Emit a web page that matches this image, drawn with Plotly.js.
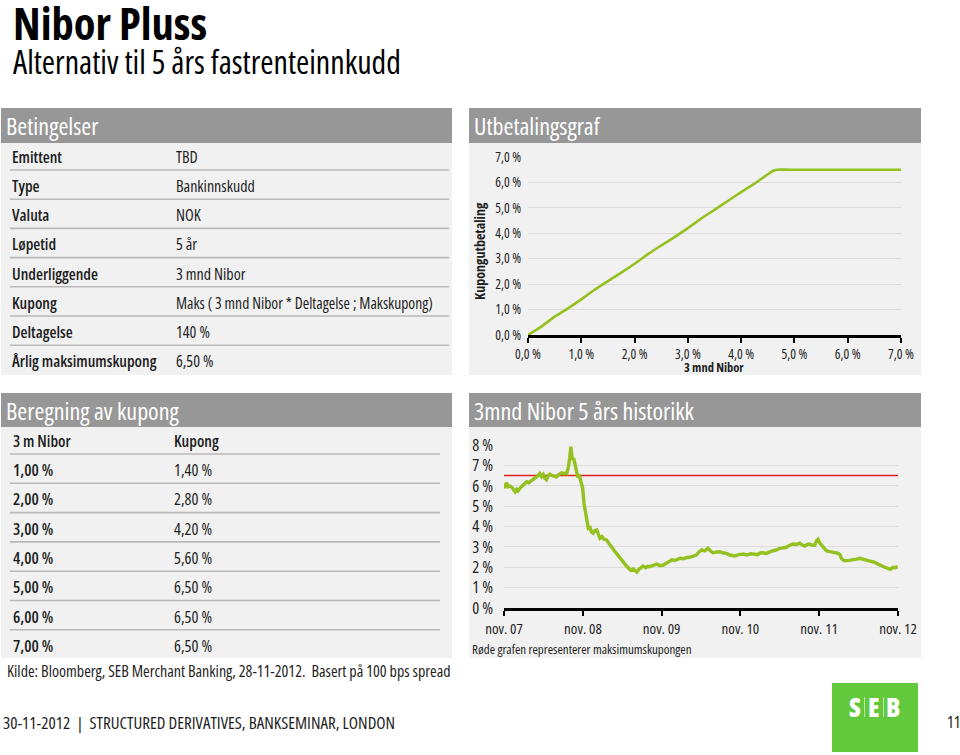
<!DOCTYPE html>
<html>
<head>
<meta charset="utf-8">
<script src="https://cdn.plot.ly/plotly-3.0.1.min.js"></script>
<style>
  html, body { margin:0; padding:0; background:#ffffff; }
  #chart { width:960px; height:755px; }
  text { font-stretch: 75% !important; }
</style>
</head>
<body>
<div id="chart"></div>
<script>
// ---------------- DATA ----------------
const pageTitle = "Nibor Pluss";
const pageSubtitle = "Alternativ til 5 års fastrenteinnkudd";

const condLabels = ["Emittent","Type","Valuta","Løpetid","Underliggende","Kupong","Deltagelse","Årlig maksimumskupong"];
const condValues = ["TBD","Bankinnskudd","NOK","5 år","3 mnd Nibor","Maks ( 3 mnd Nibor * Deltagelse ; Makskupong)","140 %","6,50 %"];

const calcHeader = ["3 m Nibor","Kupong"];
const calcNibor  = ["1,00 %","2,00 %","3,00 %","4,00 %","5,00 %","6,00 %","7,00 %"];
const calcCoupon = ["1,40 %","2,80 %","4,20 %","5,60 %","6,50 %","6,50 %","6,50 %"];

// Payoff graph (Utbetalingsgraf)
const payoffNibor  = [0, 0.25, 0.5, 0.75, 1.0, 1.25, 1.5, 1.75, 2.0, 2.25, 2.5, 2.75, 3.0, 3.25, 3.5, 3.75, 4.0, 4.25, 4.5, 4.6, 4.68, 5.0, 5.5, 6.0, 6.5, 7.0];
const payoffCoupon = [0, 0.33, 0.72, 1.05, 1.40, 1.78, 2.12, 2.45, 2.80, 3.18, 3.52, 3.85, 4.20, 4.58, 4.92, 5.27, 5.62, 5.95, 6.32, 6.46, 6.50, 6.50, 6.50, 6.50, 6.50, 6.50];
const payoffTicks = [0,1,2,3,4,5,6,7];
const payoffTickText = ["0,0 %","1,0 %","2,0 %","3,0 %","4,0 %","5,0 %","6,0 %","7,0 %"];

// 3mnd Nibor 5 års historikk
const histDates = ["2007-11-28","2007-12-04","2007-12-10","2007-12-17","2007-12-26","2008-01-04","2008-01-10","2008-01-18","2008-01-25","2008-02-01","2008-02-10","2008-02-20","2008-03-01","2008-03-12","2008-03-22","2008-04-04","2008-04-15","2008-04-25","2008-05-05","2008-05-12","2008-05-20","2008-05-28","2008-06-04","2008-06-12","2008-06-20","2008-06-28","2008-07-08","2008-07-18","2008-07-29","2008-08-08","2008-08-15","2008-08-22","2008-09-01","2008-09-08","2008-09-14","2008-09-22","2008-09-28","2008-10-03","2008-10-07","2008-10-12","2008-10-16","2008-10-22","2008-10-26","2008-10-30","2008-11-05","2008-11-10","2008-11-14","2008-11-18","2008-11-22","2008-11-27","2008-12-03","2008-12-09","2008-12-16","2008-12-23","2008-12-31","2009-01-07","2009-01-15","2009-01-22","2009-01-31","2009-02-08","2009-02-15","2009-02-25","2009-03-05","2009-03-17","2009-03-28","2009-04-09","2009-04-20","2009-05-02","2009-05-14","2009-05-26","2009-06-06","2009-06-18","2009-06-28","2009-07-08","2009-07-18","2009-07-28","2009-08-05","2009-08-15","2009-08-25","2009-09-03","2009-09-15","2009-09-25","2009-10-04","2009-10-18","2009-11-05","2009-11-20","2009-12-06","2009-12-20","2010-01-05","2010-01-14","2010-01-28","2010-02-10","2010-02-22","2010-03-10","2010-03-25","2010-04-08","2010-04-22","2010-05-08","2010-05-20","2010-06-01","2010-06-15","2010-07-01","2010-07-12","2010-07-24","2010-08-05","2010-08-25","2010-09-10","2010-09-25","2010-10-10","2010-11-02","2010-11-20","2010-12-12","2010-12-28","2011-01-15","2011-01-27","2011-02-15","2011-03-01","2011-03-13","2011-03-28","2011-04-13","2011-04-28","2011-05-15","2011-05-29","2011-06-15","2011-06-29","2011-07-15","2011-07-30","2011-08-15","2011-08-30","2011-09-10","2011-09-22","2011-10-05","2011-10-15","2011-10-28","2011-11-08","2011-11-16","2011-11-23","2011-12-01","2011-12-09","2011-12-20","2012-01-01","2012-01-12","2012-01-25","2012-02-10","2012-02-25","2012-03-05","2012-03-10","2012-03-18","2012-03-26","2012-04-15","2012-05-04","2012-05-20","2012-06-04","2012-06-20","2012-07-05","2012-07-20","2012-08-04","2012-08-20","2012-09-05","2012-09-18","2012-09-28","2012-10-10","2012-10-22","2012-11-06","2012-11-15","2012-11-27"];
const histRates = [5.88,6.05,6.15,5.95,5.98,5.92,5.80,5.70,5.82,5.75,5.88,6.00,6.10,6.20,6.15,6.27,6.35,6.42,6.50,6.60,6.45,6.55,6.37,6.30,6.50,6.57,6.50,6.48,6.44,6.55,6.58,6.64,6.58,6.62,6.60,6.94,7.40,7.92,7.50,7.26,7.35,7.02,6.80,6.60,6.40,6.55,6.36,6.20,6.12,5.87,5.13,4.70,4.32,3.91,3.95,3.72,3.67,3.80,3.83,3.55,3.42,3.50,3.38,3.34,3.15,3.01,2.85,2.68,2.50,2.36,2.22,2.06,1.95,1.85,1.92,1.80,1.76,1.90,1.98,2.06,1.98,2.05,2.03,2.10,2.16,2.08,2.11,2.20,2.30,2.36,2.33,2.40,2.44,2.42,2.48,2.49,2.55,2.60,2.75,2.85,2.80,2.93,2.80,2.71,2.74,2.76,2.70,2.68,2.60,2.55,2.62,2.65,2.60,2.66,2.65,2.62,2.70,2.71,2.68,2.76,2.81,2.85,2.93,2.95,2.98,3.08,3.14,3.12,3.18,3.10,3.04,3.12,3.14,3.08,3.09,3.30,3.37,3.20,3.09,2.92,2.81,2.78,2.76,2.72,2.68,2.60,2.44,2.36,2.32,2.34,2.36,2.40,2.44,2.38,2.36,2.30,2.27,2.18,2.11,2.05,2.00,1.95,1.90,2.00,1.98,2.03];
const maxCoupon = 6.5;
const histRange = ["2007-11-28","2012-11-28"];
const histTickDates = ["2007-11-28","2008-11-28","2009-11-28","2010-11-28","2011-11-28","2012-11-28"];
const histTickText = ["nov. 07","nov. 08","nov. 09","nov. 10","nov. 11","nov. 12"];
const histYTicks = [0,1,2,3,4,5,6,7,8];
const histYText = ["0 %","1 %","2 %","3 %","4 %","5 %","6 %","7 %","8 %"];

const panelTitles = ["Betingelser","Utbetalingsgraf","Beregning av kupong","3mnd Nibor 5 års historikk"];
const sourceText = "Kilde: Bloomberg, SEB Merchant Banking, 28-11-2012.  Basert på 100 bps spread";
const noteText = "Røde grafen representerer maksimumskupongen";
const footerText = "30-11-2012  |  STRUCTURED DERIVATIVES, BANKSEMINAR, LONDON";
const pageNumber = "11";

// ---------------- LAYOUT HELPERS ----------------
const W = 960, H = 755;
const FONT = '"Open Sans", "Roboto", sans-serif';
const TXT = "#1e1e1e";
const HEAD = "#979797";
const BODY = "#f1f1f1";
const GREEN = "#94c11f";
const px = x => x / W;
const py = y => 1 - y / H;

function ann(x, y, text, size, o) {
  o = o || {};
  const xa = o.xa || "left";
  const a = {
    xref: "paper", yref: "paper", x: px(x), y: py(y), text: text, showarrow: false,
    xanchor: xa, yanchor: o.ya || "middle", align: xa === "left" ? "left" : "center",
    textangle: o.angle || 0,
    font: { family: FONT, size: size, color: o.color || TXT }
  };
  if (xa === "left") a.width = o.w || 300;
  if (o.weight) a.font.weight = o.weight;
  return a;
}
function rect(x0, y0, x1, y1, fill) {
  return { type: "rect", xref: "paper", yref: "paper", x0: px(x0), x1: px(x1), y0: py(y1), y1: py(y0),
           fillcolor: fill, line: { width: 0 }, layer: "below" };
}
function hline(x0, x1, y, color, w) {
  return { type: "line", xref: "paper", yref: "paper", x0: px(x0), x1: px(x1), y0: py(y), y1: py(y),
           line: { color: color, width: w }, layer: "above" };
}
function vline(x, y0, y1, color, w) {
  return { type: "line", xref: "paper", yref: "paper", x0: px(x), x1: px(x), y0: py(y0), y1: py(y1),
           line: { color: color, width: w }, layer: "above" };
}

const shapes = [];
const annotations = [];

// Titles
annotations.push(ann(11, 22, pageTitle, 44.5, { color: "#000", weight: 700, w: 300 }));
annotations.push(ann(11, 61, pageSubtitle, 32, { color: "#000", w: 440 }));

// Panels
const panels = [
  { x0: 1, x1: 452, hy0: 108, hy1: 143, by1: 375 },
  { x0: 469, x1: 921, hy0: 108, hy1: 143, by1: 375 },
  { x0: 1, x1: 452, hy0: 393, hy1: 427, by1: 658 },
  { x0: 469, x1: 921, hy0: 393, hy1: 427, by1: 658 }
];
panels.forEach((p, i) => {
  shapes.push(rect(p.x0, p.hy1, p.x1, p.by1, BODY));
  shapes.push(rect(p.x0, p.hy0, p.x1, p.hy1, HEAD));
  annotations.push(ann(p.x0 + 3, (p.hy0 + p.hy1) / 2, panelTitles[i], 24, { color: "#ffffff", w: 400 }));
});

// Betingelser table
condLabels.forEach((lab, i) => {
  const y = 156.7 + i * 29.2;
  annotations.push(ann(10, y, lab, 16, { weight: 600, w: 160 }));
  const long = condValues[i].length > 30;
  annotations.push(ann(174, y, condValues[i], long ? 15.6 : 16, { w: 276 }));
  if (i < condLabels.length - 1) shapes.push(hline(10, 449, 170 + i * 29.2, "#b9b9b9", 1.6));
});

// Beregning table
annotations.push(ann(11, 440.7, calcHeader[0], 16, { weight: 600, w: 150 }));
annotations.push(ann(172, 440.7, calcHeader[1], 16, { weight: 600, w: 150 }));
calcNibor.forEach((v, i) => {
  const y = 470 + i * 29.3;
  annotations.push(ann(11, y, v, 16.3, { weight: 600, w: 150 }));
  annotations.push(ann(172, y, calcCoupon[i], 16.3, { w: 150 }));
});
for (let i = 0; i < 7; i++) shapes.push(hline(10, 440, 454 + i * 29.3, "#b9b9b9", 1.6));

// Source, note, footer
annotations.push(ann(5, 671, sourceText, 16, { w: 455 }));
annotations.push(ann(470, 649, noteText, 13, { w: 300 }));
annotations.push(ann(1, 722, footerText, 17, { w: 420 }));
annotations.push(ann(954, 722, pageNumber, 16, { xa: "center" }));

// Axis titles for payoff chart
annotations.push(ann(714, 367, "3 mnd Nibor", 12.5, { xa: "center", weight: 700 }));
annotations.push(ann(480, 251, "Kupongutbetaling", 14, { xa: "center", angle: -90, weight: 700 }));

// SEB logo
shapes.push({ type: "rect", xref: "paper", yref: "paper", x0: px(832), x1: px(918), y0: py(752), y1: py(683),
              fillcolor: "#62c83c", line: { width: 0 }, layer: "above" });
annotations.push(ann(855, 707, "S", 26, { xa: "center", color: "#ffffff", weight: 800 }));
annotations.push(ann(874, 707, "E", 26, { xa: "center", color: "#ffffff", weight: 800 }));
annotations.push(ann(893, 707, "B", 26, { xa: "center", color: "#ffffff", weight: 800 }));
shapes.push(vline(864.5, 697, 717, "#b8e8a0", 1));
shapes.push(vline(883.5, 697, 717, "#b8e8a0", 1));

// ---------------- TRACES ----------------
const traces = [
  { type: "scatter", mode: "lines", x: payoffNibor, y: payoffCoupon, xaxis: "x", yaxis: "y",
    line: { color: GREEN, width: 2.6, shape: "spline", smoothing: 0.3 }, hoverinfo: "skip", cliponaxis: false },
  { type: "scatter", mode: "lines", x: histRange, y: [maxCoupon, maxCoupon], xaxis: "x2", yaxis: "y2",
    line: { color: "#e0201b", width: 1.5 }, hoverinfo: "skip" },
  { type: "scatter", mode: "lines", x: histDates, y: histRates, xaxis: "x2", yaxis: "y2",
    line: { color: GREEN, width: 3.4 }, hoverinfo: "skip" }
];

const tickFont = { family: FONT, size: 13.5, color: TXT };
const layout = {
  width: W, height: H,
  margin: { l: 0, r: 0, t: 0, b: 0 },
  paper_bgcolor: "#ffffff",
  plot_bgcolor: "rgba(0,0,0,0)",
  showlegend: false,
  xaxis: {
    domain: [px(528), px(901)], range: [0, 7], anchor: "y",
    tickvals: payoffTicks, ticktext: payoffTickText, tickfont: tickFont,
    showgrid: false, zeroline: false,
    showline: true, linecolor: "#000", linewidth: 3,
    ticks: "outside", ticklen: 5, tickwidth: 2, tickcolor: "#000"
  },
  yaxis: {
    domain: [py(335), py(157)], range: [0, 7], anchor: "x",
    tickvals: payoffTicks, ticktext: payoffTickText, tickfont: tickFont,
    showgrid: true, gridcolor: "#dcdcdc", gridwidth: 1, zeroline: false,
    showline: false, ticks: "", ticklabelstandoff: 6
  },
  xaxis2: {
    type: "date", domain: [px(504), px(898)], range: histRange, anchor: "y2",
    tickvals: histTickDates, ticktext: histTickText,
    tickfont: { family: FONT, size: 15, color: TXT },
    showgrid: false, zeroline: false,
    showline: true, linecolor: "#000", linewidth: 3,
    ticks: "outside", ticklen: 5, tickwidth: 2, tickcolor: "#000"
  },
  yaxis2: {
    domain: [py(608), py(445)], range: [0, 8], anchor: "x2",
    tickvals: histYTicks, ticktext: histYText,
    tickfont: { family: FONT, size: 16.5, color: TXT },
    showgrid: true, gridcolor: "#dcdcdc", gridwidth: 1, zeroline: false,
    showline: false, ticks: "", ticklabelstandoff: 10
  },
  shapes: shapes,
  annotations: annotations
};

Plotly.newPlot("chart", traces, layout, { displayModeBar: false, staticPlot: true });
</script>
</body>
</html>
